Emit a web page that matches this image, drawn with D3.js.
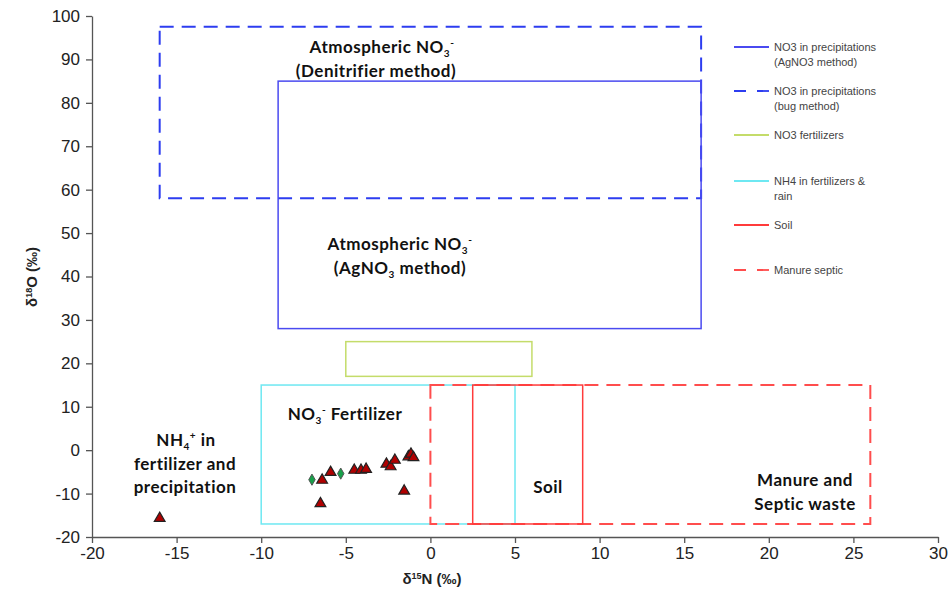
<!DOCTYPE html>
<meta charset="utf-8">
<head>
<style>
body { margin: 0; background: #fff; }
.axis text { font-family: "Liberation Sans", Arial, sans-serif; font-size: 17px; fill: #222; }
.axis path, .axis line { stroke: #555; stroke-width: 1.3px; }
.lbl { font-family: Lato, "Open Sans", sans-serif; font-weight: bold; font-size: 17px; letter-spacing: 0.5px; fill: #111; }
.legend text { font-family: "Liberation Sans", Arial, sans-serif; font-size: 11px; fill: #444; }
</style>
</head>
<body>
<div id="chart"></div>
<script src="https://d3js.org/d3.v7.min.js"></script>
<script>
// source boxes: [x0, x1, y0, y1]
var boxNames = ["NO3 in precipitations (AgNO3 method)", "NO3 in precipitations (bug method)",
  "NO3 fertilizers", "NH4 in fertilizers & rain", "Soil", "Manure septic"];
var boxN = [[-9, 16], [-16, 16], [-5, 6], [-10, 5], [2.5, 9], [0, 26]];
var boxO = [[28, 85], [58, 97.5], [17, 25], [-17, 15], [-17, 15], [-17, 15]];
var boxColors = ["#4a4af0", "#2d3df0", "#c4dc6a", "#6ee8f2", "#ff3b3b", "#ff4d4d"];
var boxDash = [null, "14,8", null, null, null, "14,8"];

// sample points (δ15N, δ18O)
var triN = [-16, -6.4, -6.5, -5.9, -4.5, -4.1, -3.8, -2.6, -2.35, -2.1, -1.3, -1.15, -1.0, -1.55];
var triO = [-15.7, -6.9, -12.3, -5.1, -4.6, -4.6, -4.4, -3.2, -3.8, -2.3, -1.5, -0.9, -1.7, -9.4];
var diaN = [-7.0, -5.3];
var diaO = [-6.8, -5.4];

var xTicks = [-20, -15, -10, -5, 0, 5, 10, 15, 20, 25, 30];
var yTicks = [-20, -10, 0, 10, 20, 30, 40, 50, 60, 70, 80, 90, 100];

var W = 951, H = 599;
var svg = d3.select("#chart").append("svg").attr("width", W).attr("height", H);

var x = d3.scaleLinear().domain([-20, 30]).range([92, 938]);
var y = d3.scaleLinear().domain([-20, 100]).range([537, 16]);
var plain = function(d) { return String(d); };

// axes
svg.append("g").attr("class", "axis")
  .attr("transform", "translate(0," + y(-20) + ")")
  .call(d3.axisBottom(x).tickValues(xTicks).tickFormat(plain).tickSize(6).tickSizeOuter(0).tickPadding(4))
svg.append("g").attr("class", "axis")
  .attr("transform", "translate(" + x(-20) + ",0)")
  .call(d3.axisLeft(y).tickValues(yTicks).tickFormat(plain).tickSize(6).tickSizeOuter(0).tickPadding(6))

svg.append("text").attr("class", "axtitle")
  .attr("x", 432).attr("y", 584)
  .attr("text-anchor", "middle")
  .style("font-family", "Liberation Sans, Arial").style("font-weight", "bold").style("font-size", "15px").style("fill", "#222")
  .html('δ<tspan font-size="9px" dy="-5">15</tspan><tspan dy="5">N (‰)</tspan>');
svg.append("text")
  .attr("transform", "translate(37,277) rotate(-90)")
  .attr("text-anchor", "middle")
  .style("font-family", "Liberation Sans, Arial").style("font-weight", "bold").style("font-size", "15px").style("fill", "#222")
  .html('δ<tspan font-size="9px" dy="-5">18</tspan><tspan dy="5">O (‰)</tspan>');

// boxes
var order = [1, 0, 2, 3, 5, 4];
order.forEach(function(i) {
  svg.append("rect")
    .attr("x", x(boxN[i][0]))
    .attr("y", y(boxO[i][1]))
    .attr("width", x(boxN[i][1]) - x(boxN[i][0]))
    .attr("height", y(boxO[i][0]) - y(boxO[i][1]))
    .style("fill", "none")
    .style("stroke", boxColors[i])
    .style("stroke-width", i == 1 || i == 5 ? 2 : 1.5)
    .style("stroke-dasharray", boxDash[i]);
});

// points
svg.append("g").selectAll("path.tri")
  .data(triN.map(function(d, i) { return [d, triO[i]]; }))
  .enter().append("path")
  .attr("d", d3.symbol().type(d3.symbolTriangle).size(50))
  .attr("transform", function(d) { return "translate(" + x(d[0]) + "," + y(d[1]) + ")"; })
  .style("fill", "#b00000").style("stroke", "#222").style("stroke-width", 1.2);
svg.append("g").selectAll("path.dia")
  .data(diaN.map(function(d, i) { return [d, diaO[i]]; }))
  .enter().append("path")
  .attr("d", d3.symbol().type(d3.symbolDiamond).size(36))
  .attr("transform", function(d) { return "translate(" + x(d[0]) + "," + y(d[1]) + ")"; })
  .style("fill", "#17a04a").style("stroke", "#555").style("stroke-width", 1);

// annotations
function label(px, py, html) {
  svg.append("text").attr("class", "lbl")
    .attr("x", px).attr("y", py).attr("text-anchor", "middle")
    .html(html);
}
label(382, 53, 'Atmospheric NO<tspan font-size="10px" dy="4">3</tspan><tspan font-size="10px" dy="-11">-</tspan>');
label(376, 77, '(Denitrifier method)');
label(400, 250, 'Atmospheric NO<tspan font-size="10px" dy="4">3</tspan><tspan font-size="10px" dy="-11">-</tspan>');
label(400, 274, '(AgNO<tspan font-size="10px" dy="4">3</tspan><tspan dy="-4"> method)</tspan>');
label(345, 420, 'NO<tspan font-size="10px" dy="4">3</tspan><tspan font-size="10px" dy="-11">-</tspan><tspan dy="7"> Fertilizer</tspan>');
label(186, 446, 'NH<tspan font-size="10px" dy="4">4</tspan><tspan font-size="10px" dy="-11">+</tspan><tspan dy="7"> in</tspan>');
label(185, 470, 'fertilizer and');
label(185, 493, 'precipitation');
label(548, 493, 'Soil');
label(805, 486, 'Manure and');
label(805, 510, 'Septic waste');

// legend
var legY = [47, 91, 135, 181, 225, 270];
var legText = [["NO3 in precipitations", "(AgNO3 method)"], ["NO3 in precipitations", "(bug method)"],
  ["NO3 fertilizers"], ["NH4 in fertilizers &", "rain"], ["Soil"], ["Manure septic"]];
var legend = svg.selectAll(".legend").data(legY).enter().append("g")
  .attr("class", "legend")
  .attr("transform", function(d) { return "translate(734," + d + ")"; });
legend.append("line")
  .attr("x1", 0).attr("x2", 35).attr("y1", 0).attr("y2", 0)
  .style("stroke", function(d, i) { return boxColors[i]; })
  .style("stroke-width", 1.8)
  .style("stroke-dasharray", function(d, i) { return boxDash[i] ? "12,11" : null; });
legend.each(function(d, i) {
  var t = d3.select(this).append("text").attr("x", 40).attr("y", 4);
  legText[i].forEach(function(s, k) {
    t.append("tspan").attr("x", 40).attr("dy", k == 0 ? 0 : 15).text(s);
  });
});
</script>
</body>
